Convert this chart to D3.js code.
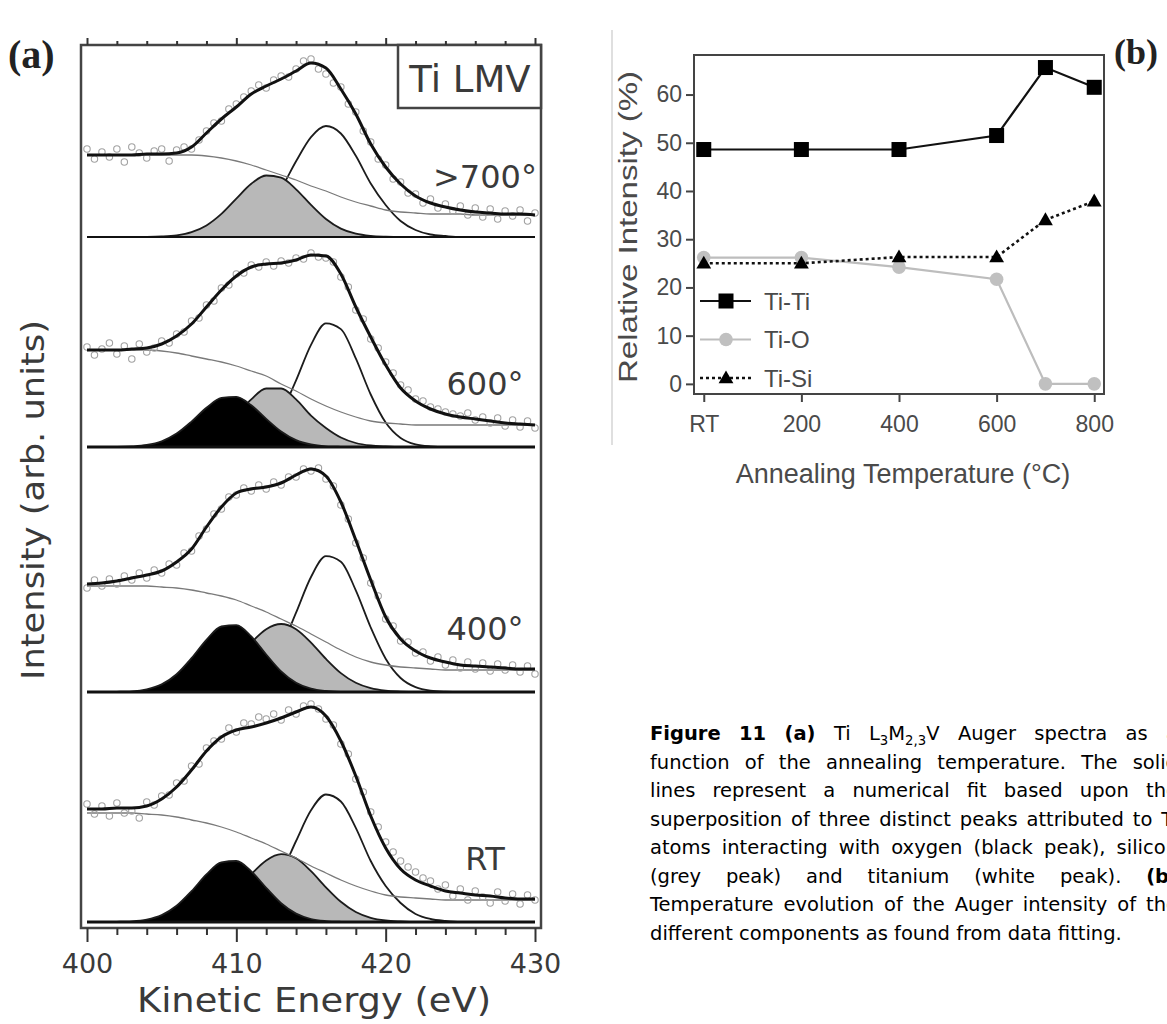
<!DOCTYPE html>
<html lang="en">
<head>
<meta charset="UTF-8">
<title>Ti LMV Auger spectra and relative intensities</title>
<script src="https://d3js.org/d3.v7.min.js"></script>
<style>
  body { margin: 0; background: #fff; }
  svg { display: block; }
</style>
</head>
<body>
<svg id="fig" width="1167" height="1024"></svg>
<script>
// ================= DATA: panel (a), Ti LMV spectra =================
// curves sampled every 1 eV (400..430), data points every 0.5 eV
const energies = d3.range(400, 431, 1);
const pointEnergies = d3.range(400, 430.25, 0.5);

// >700 deg
const fit700 = [82,82,82,82,83,83,84,90,104,118,130,143,151,158,166,174,169,148,123,93,70,53,41,34,30,27,25,24,23,23,22];
const bg700 = [82,82,82,82,82,82,82,82,81,79,76,72,67,62,57,51,46,40,35,31,27,25,24,23,23,23,22,22,22,22,22];
const grey700 = [0,0,0,0,0.1,0.5,1.7,4.9,11.6,23.1,38.4,53.2,61.5,59.3,47.7,32.1,18,8.4,3.3,1.1,0.3,0,0,0,0,0,0,0,0,0,0];
const white700 = [0,0,0,0,0,0,0,0,0,0.5,4.4,11.6,25.8,48.2,75.7,99.9,111,103.5,81.2,53.5,32,16,7,2.5,1,0,0,0,0,0,0];
const data700 = [88,78,85,80,88,75,90,84,79,86,88,76,87,90,88,97,106,114,116,128,133,140,146,152,149,157,161,160,168,176,178,168,163,154,150,133,125,106,95,78,72,58,55,44,43,34,38,29,33,26,31,22,29,20,28,18,26,21,27,16,24];

// 600 deg
const fit600 = [97,97,97,98,99,103,111,123,140,157,171,180,183,184,187,192,191,173,140,110,82,59,46,38,33,30,28,26,24,23,22];
const bg600 = [97,97,97,97,97,96,94,91,88,85,81,76,71,63,56,48,41,35,30,26,24,23,22,22,22,22,22,22,22,22,22];
const black600 = [0,0,0.1,0.6,2,5.7,13.4,25.4,39.2,49.1,50.2,41.7,28.1,15.5,6.9,2.5,0.7,0.2,0,0,0,0,0,0,0,0,0,0,0,0,0];
const grey600 = [0,0,0,0,0,0.2,0.8,2.6,7.4,16.9,31.4,47.6,58.5,58.5,47.6,31.4,19,9.5,4,1.5,0.5,0,0,0,0,0,0,0,0,0,0];
const white600 = [0,0,0,0,0,0,0,0,0,0,1.1,4.4,13.8,34.2,66.6,102.2,123.7,117.9,88.6,52.5,24.5,9,2.6,0.6,0,0,0,0,0,0,0];
const data600 = [100,92,98,104,93,101,88,103,95,99,106,104,113,115,126,129,142,146,159,162,173,174,182,180,185,181,186,184,189,188,194,190,189,185,170,160,137,128,108,99,85,74,62,57,48,46,40,38,35,33,31,34,27,30,24,29,21,27,20,26,19];

// 400 deg
const fit400 = [108,109,111,114,117,121,130,143,165,185,199,203,205,209,217,223,216,190,152,112,75,53,41,34,30,27,26,25,24,23,23];
const bg400 = [106,106,106,106,106,105,104,102,99,96,92,86,80,73,66,58,50,42,35,30,27,25,24,23,22,22,22,22,22,22,22];
const black400 = [0,0,0.2,0.7,2.7,7.6,17.8,33.8,52.2,65.5,66.9,55.6,37.5,20.6,9.2,3.3,1,0.2,0,0,0,0,0,0,0,0,0,0,0,0,0];
const grey400 = [0,0,0,0,0,0.4,1.3,3.8,9.2,18.9,33.1,49.4,62.8,68,62.8,49.4,33.1,18.9,9.2,3.8,1.3,0.4,0,0,0,0,0,0,0,0,0];
const white400 = [0,0,0,0,0,0,0,0,0,0,2.3,7.5,20.3,44.5,79.3,115,135.8,130.3,101.6,64.5,33.3,14,4.8,1.3,0.3,0,0,0,0,0,0];
const data400 = [104,112,106,113,108,116,112,119,114,122,119,128,127,139,141,156,163,178,183,195,197,204,201,207,203,210,207,215,215,223,221,224,213,206,187,173,149,134,109,96,73,66,51,50,39,40,31,35,27,32,24,30,23,29,21,28,22,27,20,26,18];

// RT
const fitRT = [113,113,114,114,116,123,135,152,171,185,192,195,199,204,210,215,206,181,146,106,74,53,42,36,31,29,27,26,24,23,23];
const bgRT = [109,109,109,109,108,107,105,102,99,95,90,84,78,71,64,56,49,42,36,31,27,25,24,23,22,22,22,22,22,22,22];
const blackRT = [0,0,0.2,0.7,2.4,6.9,16.2,30.8,47.6,59.7,61,50.7,34.2,18.8,8.4,3,0.9,0.2,0,0,0,0,0,0,0,0,0,0,0,0,0];
const greyRT = [0,0,0,0,0,0.3,1.1,3.3,8.4,17.5,31.4,47.8,61.6,67.9,63.7,50.9,34.7,20.2,10,4.2,1.5,0.5,0,0,0,0,0,0,0,0,0];
const whiteRT = [0,0,0,0,0,0,0,0,0,0,3.4,9.9,24.2,48.6,81,111.7,127.5,120.5,94.2,61,36,19,8,3,1,0,0,0,0,0,0];
const dataRT = [118,108,116,106,119,109,111,104,120,117,126,127,139,141,156,158,174,181,183,194,190,199,198,205,203,208,202,212,208,216,218,213,203,197,178,168,143,130,110,95,80,70,61,55,50,44,41,33,37,26,33,22,31,25,19,30,21,28,18,27,22];

const panelLabels = [">700°", "600°", "400°", "RT"];
const energyMajorTicks = [400, 410, 420, 430];
const energyMinorTicks = d3.range(402, 430, 2).filter(d => d % 10 !== 0);

// ================= DATA: panel (b), relative intensities =================
const temps = [0, 200, 400, 600, 700, 800];
const tempTicks = [0, 200, 400, 600, 800];
const tempTickLabels = ["RT", "200", "400", "600", "800"];
const tiTi = [48.6, 48.6, 48.6, 51.5, 65.6, 61.5];
const tiO = [26.2, 26.2, 24.2, 21.7, 0, 0];
const tiSi = [25, 25, 26.3, 26.3, 34, 37.9];
const intensityTicks = [0, 10, 20, 30, 40, 50, 60];
const seriesNames = ["Ti-Ti", "Ti-O", "Ti-Si"];

const captionLines = [
  "**Figure** **11** **(a)** Ti L_3M_{2,3}V Auger spectra as a",
  "function of the annealing temperature. The solid",
  "lines represent a numerical fit based upon the",
  "superposition of three distinct peaks attributed to Ti",
  "atoms interacting with oxygen (black peak), silicon",
  "(grey peak) and titanium (white peak). **(b)**",
  "Temperature evolution of the Auger intensity of the",
  "different components as found from data fitting."
];

const svg = d3.select("#fig");
const textA = "#3a3a3a";

// ================= PANEL (a) =================
const frameA = {left: 81, right: 541, top: 45, bottom: 928};
const xA = d3.scaleLinear().domain([400, 430]).range([87, 535]);
const baselines = [237, 447, 692, 922];

const spectra = [
  {fit: fit700, bg: bg700, black: null, grey: grey700, white: white700, pts: data700},
  {fit: fit600, bg: bg600, black: black600, grey: grey600, white: white600, pts: data600},
  {fit: fit400, bg: bg400, black: black400, grey: grey400, white: white400, pts: data400},
  {fit: fitRT, bg: bgRT, black: blackRT, grey: greyRT, white: whiteRT, pts: dataRT}
];

const gA = svg.append("g");

spectra.forEach((sp, k) => {
  const base = baselines[k];
  const y = d3.scaleLinear().domain([0, 100]).range([base, base - 100]);
  const line = d3.line().x((d, i) => xA(energies[i])).y(d => y(d)).curve(d3.curveMonotoneX);
  const area = d3.area().x((d, i) => xA(energies[i])).y0(y(0)).y1(d => y(d)).curve(d3.curveMonotoneX);
  const g = gA.append("g");

  // component peaks: white (Ti-Ti), grey (Ti-Si), black (Ti-O)
  [[sp.white, "#ffffff"], [sp.grey, "#b8b8b8"], [sp.black, "#000000"]].forEach(([vals, fill]) => {
    if (!vals) return;
    g.append("path").attr("d", area(vals)).attr("fill", fill);
    g.append("path").attr("d", line(vals)).attr("fill", "none")
      .attr("stroke", "#1c1c1c").attr("stroke-width", 1.8);
  });

  // baseline
  g.append("line")
    .attr("x1", xA(400)).attr("x2", xA(430))
    .attr("y1", y(0)).attr("y2", y(0))
    .attr("stroke", "#111").attr("stroke-width", k === 0 ? 2.2 : 3);

  // background
  g.append("path").attr("d", line(sp.bg)).attr("fill", "none")
    .attr("stroke", "#7a7a7a").attr("stroke-width", 1.3);

  // measured points
  g.selectAll("circle").data(sp.pts).join("circle")
    .attr("cx", (d, i) => xA(pointEnergies[i]))
    .attr("cy", d => y(d))
    .attr("r", 3.2)
    .attr("fill", "none")
    .attr("stroke", "#a2a2a2")
    .attr("stroke-width", 1.1);

  // total fit
  g.append("path").attr("d", line(sp.fit)).attr("fill", "none")
    .attr("stroke", "#111").attr("stroke-width", 3);

  g.append("text")
    .attr("x", 485).attr("y", [188, 395, 640, 870][k])
    .attr("text-anchor", "middle")
    .attr("font-family", "DejaVu Sans").attr("font-size", 32)
    .attr("fill", textA)
    .text(panelLabels[k]);
});

// frame
gA.append("rect")
  .attr("x", frameA.left).attr("y", frameA.top)
  .attr("width", frameA.right - frameA.left).attr("height", frameA.bottom - frameA.top)
  .attr("fill", "none").attr("stroke", "#444").attr("stroke-width", 2.5);

// Ti LMV box
gA.append("rect")
  .attr("x", 398).attr("y", frameA.top)
  .attr("width", frameA.right - 398).attr("height", 63)
  .attr("fill", "#fff").attr("stroke", "#444").attr("stroke-width", 2.5);
gA.append("text")
  .attr("x", 470).attr("y", 92).attr("text-anchor", "middle")
  .attr("font-family", "DejaVu Sans").attr("font-size", 37).attr("fill", textA)
  .text("Ti LMV");

// axes (bottom and top)
function energyAxis(axisFn, y, size, values, labels) {
  const ax = gA.append("g").attr("transform", `translate(0,${y})`)
    .call(axisFn(xA).tickValues(values).tickSize(size).tickPadding(12)
      .tickFormat(labels ? d3.format("d") : ""));
  ax.select(".domain").remove();
  ax.selectAll(".tick line").attr("stroke", "#333").attr("stroke-width", 2);
  ax.selectAll("text").attr("font-family", "DejaVu Sans").attr("font-size", 27).attr("fill", textA);
  return ax;
}
energyAxis(d3.axisBottom, frameA.bottom, 14, energyMajorTicks, true);
energyAxis(d3.axisBottom, frameA.bottom, 7, energyMinorTicks, false);
energyAxis(d3.axisTop, frameA.top, 7, energyMajorTicks, false);
energyAxis(d3.axisTop, frameA.top, 4, energyMinorTicks, false);

gA.append("text")
  .attr("x", 314).attr("y", 1012).attr("text-anchor", "middle")
  .attr("font-family", "DejaVu Sans").attr("font-size", 34).attr("fill", textA)
  .attr("textLength", 354).attr("lengthAdjust", "spacingAndGlyphs")
  .text("Kinetic Energy (eV)");

gA.append("text")
  .attr("transform", "translate(44,500) rotate(-90)")
  .attr("text-anchor", "middle")
  .attr("font-family", "DejaVu Sans").attr("font-size", 32).attr("fill", textA)
  .attr("textLength", 360).attr("lengthAdjust", "spacingAndGlyphs")
  .text("Intensity (arb. units)");

gA.append("text")
  .attr("x", 8).attr("y", 68)
  .attr("font-family", "Liberation Serif").attr("font-weight", "bold").attr("font-size", 40)
  .attr("fill", "#222")
  .text("(a)");

// ================= PANEL (b) =================
const frameB = {left: 694, right: 1104, top: 55, bottom: 394};
const xB = d3.scaleLinear().domain([-20, 820]).range([frameB.left, frameB.right]);
const yB = d3.scaleLinear().domain([-2.1, 68.2]).range([frameB.bottom, frameB.top]);
const textB = "#4a4a4a";
const gB = svg.append("g");

gB.append("line")
  .attr("x1", 612).attr("x2", 612).attr("y1", 30).attr("y2", 445)
  .attr("stroke", "#d4d4d4").attr("stroke-width", 1.5);

const axL = gB.append("g").attr("transform", `translate(${frameB.left},0)`)
  .call(d3.axisLeft(yB).tickValues(intensityTicks).tickSize(8).tickPadding(4));
const axB = gB.append("g").attr("transform", `translate(0,${frameB.bottom})`)
  .call(d3.axisBottom(xB).tickValues(tempTicks).tickSize(8).tickPadding(14)
    .tickFormat((d, i) => tempTickLabels[i]));
[axL, axB].forEach(ax => {
  ax.select(".domain").remove();
  ax.selectAll(".tick line").attr("stroke", "#444").attr("stroke-width", 2);
  ax.selectAll("text").attr("font-family", "Liberation Sans").attr("font-size", 23).attr("fill", textB);
});

gB.append("rect")
  .attr("x", frameB.left).attr("y", frameB.top)
  .attr("width", frameB.right - frameB.left).attr("height", frameB.bottom - frameB.top)
  .attr("fill", "none").attr("stroke", "#444").attr("stroke-width", 2);

const lineB = vals => d3.line().x((d, i) => xB(temps[i])).y(d => yB(d))(vals);

const seriesStyle = [
  {vals: tiO, stroke: "#bdbdbd", dash: null, marker: "circle", fill: "#c0c0c0"},
  {vals: tiSi, stroke: "#111", dash: "3,3", marker: "triangle", fill: "#000"},
  {vals: tiTi, stroke: "#111", dash: null, marker: "square", fill: "#000"}
];

function drawMarker(g, type, cx, cy, fill) {
  if (type === "circle") {
    g.append("circle").attr("cx", cx).attr("cy", cy).attr("r", 6.8).attr("fill", fill);
  } else if (type === "square") {
    g.append("rect").attr("x", cx - 7.5).attr("y", cy - 7.5).attr("width", 15).attr("height", 15).attr("fill", fill);
  } else {
    g.append("path").attr("transform", `translate(${cx},${cy + 1})`)
      .attr("d", d3.symbol(d3.symbolTriangle, 95)()).attr("fill", fill);
  }
}

seriesStyle.forEach(s => {
  gB.append("path").attr("d", lineB(s.vals)).attr("fill", "none")
    .attr("stroke", s.stroke).attr("stroke-width", s.dash ? 2.6 : 2.2)
    .attr("stroke-dasharray", s.dash);
  s.vals.forEach((v, i) => drawMarker(gB, s.marker, xB(temps[i]), yB(v), s.fill));
});

// legend
const legendRows = [
  {name: seriesNames[0], style: seriesStyle[2]},
  {name: seriesNames[1], style: seriesStyle[0]},
  {name: seriesNames[2], style: seriesStyle[1]}
];
legendRows.forEach((r, i) => {
  const y = 301 + i * 38.5;
  gB.append("line").attr("x1", 700).attr("x2", 751).attr("y1", y).attr("y2", y)
    .attr("stroke", r.style.stroke).attr("stroke-width", r.style.dash ? 2.6 : 2.2)
    .attr("stroke-dasharray", r.style.dash);
  drawMarker(gB, r.style.marker, 726, y, r.style.fill);
  gB.append("text").attr("x", 764).attr("y", y + 8.5)
    .attr("font-family", "Liberation Sans").attr("font-size", 24).attr("fill", textB)
    .text(r.name);
});

gB.append("text")
  .attr("x", (frameB.left + frameB.right) / 2 + 4).attr("y", 483).attr("text-anchor", "middle")
  .attr("font-family", "Liberation Sans").attr("font-size", 27).attr("fill", textB)
  .text("Annealing Temperature (°C)");

gB.append("text")
  .attr("transform", "translate(637,227) rotate(-90)").attr("text-anchor", "middle")
  .attr("font-family", "Liberation Sans").attr("font-size", 25).attr("fill", textB)
  .attr("textLength", 312).attr("lengthAdjust", "spacingAndGlyphs")
  .text("Relative Intensity (%)");

gB.append("text")
  .attr("x", 1114).attr("y", 64)
  .attr("font-family", "Liberation Serif").attr("font-weight", "bold").attr("font-size", 36)
  .attr("fill", "#222")
  .text("(b)");

// ================= CAPTION (justified) =================
const cap = {left: 650, right: 1178, top: 740, step: 28.5, size: 19.5};
const gC = svg.append("g").attr("font-family", "DejaVu Sans").attr("font-size", cap.size).attr("fill", "#000");

captionLines.forEach((lineText, li) => {
  const y = cap.top + li * cap.step;
  const nodes = lineText.split(" ").map(word => {
    let w = word, bold = false;
    if (w.startsWith("**") && w.endsWith("**")) { bold = true; w = w.slice(2, -2); }
    const t = gC.append("text").attr("y", y).attr("font-weight", bold ? "bold" : "normal");
    let inSub = false;
    w.split(/(_\{[^}]*\}|_[^_{])/).filter(p => p).forEach(p => {
      if (p.startsWith("_")) {
        t.append("tspan").attr("dy", inSub ? 0 : 5).attr("font-size", cap.size * 0.68)
          .text(p.replace(/^_\{?/, "").replace(/\}$/, ""));
        inSub = true;
      } else {
        t.append("tspan").attr("dy", inSub ? -5 : 0).text(p);
        inSub = false;
      }
    });
    return t;
  });
  const widths = nodes.map(t => t.node().getComputedTextLength());
  const total = d3.sum(widths);
  const isLast = li === captionLines.length - 1;
  const gap = isLast ? cap.size * 0.318 : (cap.right - cap.left - total) / (nodes.length - 1);
  let x = cap.left;
  nodes.forEach((t, i) => { t.attr("x", x); x += widths[i] + gap; });
});
</script>
</body>
</html>
